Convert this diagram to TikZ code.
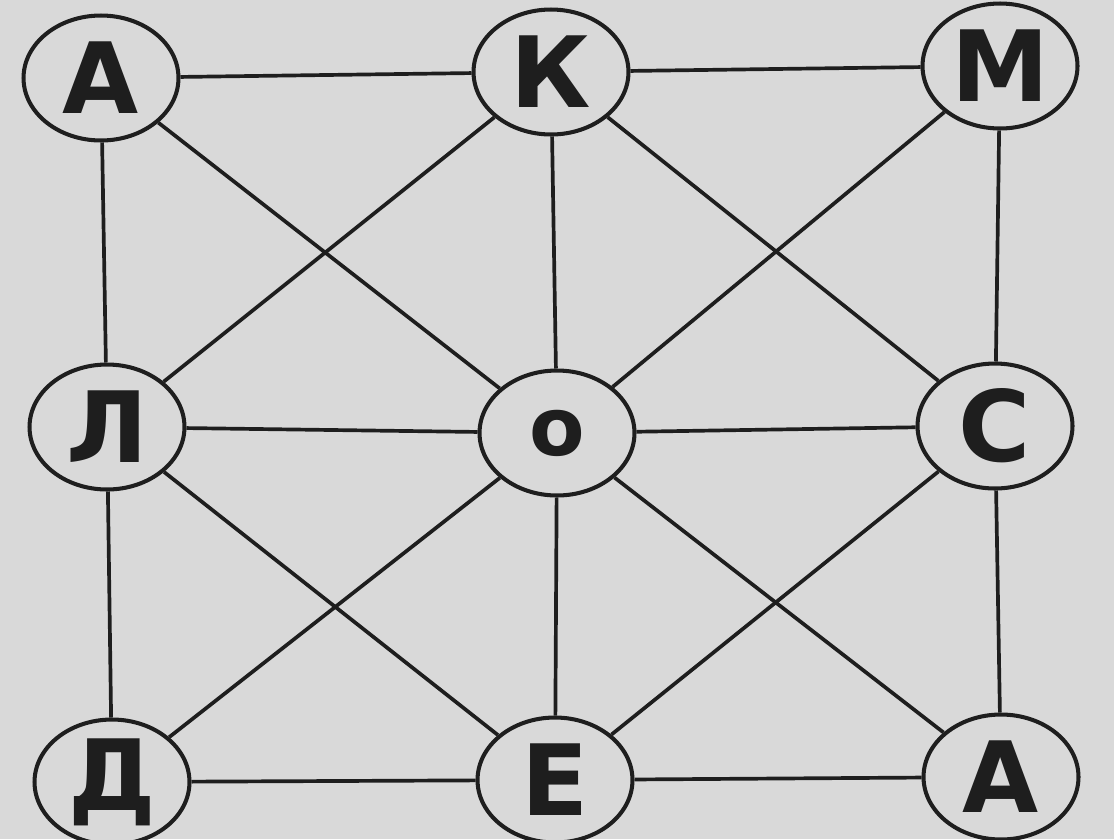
\documentclass[tikz,border=0pt]{standalone}
\usepackage{fontspec}
\setmainfont{DejaVu Sans}
\usetikzlibrary{shapes.geometric}
\definecolor{bg}{HTML}{D9D9D9}
\definecolor{ink}{HTML}{1E1E1E}
\tikzset{
  vert/.style={ellipse, draw=ink, fill=bg, line width=2.3pt, minimum width=3.1cm, minimum height=2.5cm, inner sep=0pt, text=ink, font=\bfseries\fontsize{56}{60}\selectfont},
  conn/.style={draw=ink, line width=2.1pt}
}
\begin{document}
\begin{tikzpicture}[x=0.02cm,y=-0.02cm]
\fill[bg] (0,0) rectangle (1114,839);
\useasboundingbox (0,0) rectangle (1114,839);
\node[vert] (A) at (101,78) {А};
\node[vert] (K) at (551,72) {К};
\node[vert] (M) at (1000,66) {М};
\node[vert] (L) at (107,427) {Л};
\node[vert] (O) at (557,433) {\fontsize{46}{50}\selectfont о};
\node[vert] (C) at (995,426) {С};
\node[vert] (D) at (112,782) {Д};
\node[vert] (E) at (555,780) {Е};
\node[vert] (B) at (1001,777) {А};
\foreach \u/\v in {A/K,K/M,A/L,L/D,M/C,C/B,D/E,E/B,K/O,L/O,O/C,O/E,A/O,K/L,K/C,M/O,L/E,O/B,O/D,C/E}
  \draw[conn] (\u) -- (\v);
\end{tikzpicture}
\end{document}
